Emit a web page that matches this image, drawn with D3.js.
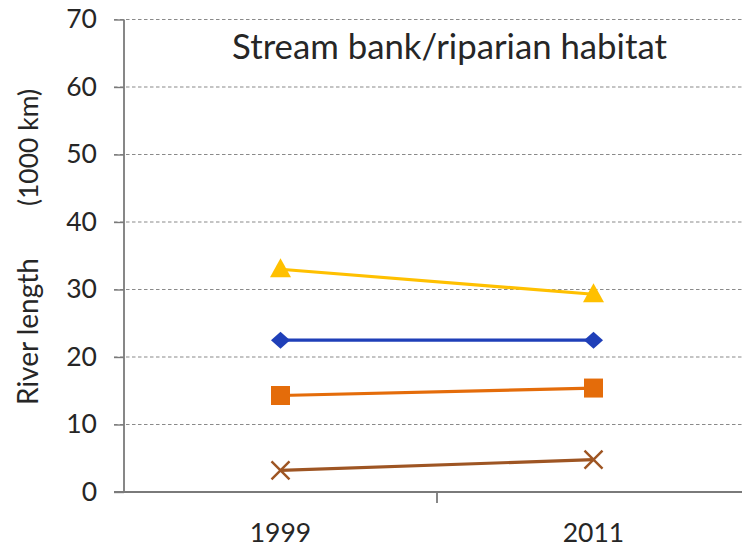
<!DOCTYPE html>
<html>
<head>
<meta charset="utf-8">
<script src="https://cdn.jsdelivr.net/npm/d3@7"></script>
<style>
  html, body { margin: 0; padding: 0; background: #fff; }
  svg { display: block; }
  text { font-family: Lato, "Open Sans", sans-serif; fill: #262626; }
</style>
</head>
<body>
<svg id="chart" width="742" height="547"></svg>
<script>
// Years on the category axis
const years = ["1999", "2011"];
const yTicks = [0, 10, 20, 30, 40, 50, 60, 70];

// River length (1000 km) by series
const triangleSeries = [33.0, 29.3];
const diamondSeries  = [22.5, 22.5];
const squareSeries   = [14.3, 15.4];
const crossSeries    = [3.2, 4.8];

const series = [
  { values: triangleSeries, color: "#FFC000", marker: "triangle" },
  { values: diamondSeries,  color: "#1F3FB8", marker: "diamond" },
  { values: squareSeries,   color: "#E46C0A", marker: "square" },
  { values: crossSeries,    color: "#9E5523", marker: "cross" }
];

const svg = d3.select("#chart");
const plotLeft = 124, plotRight = 750, plotTop = 19.5, plotBottom = 492;

const x = d3.scaleBand().domain(years).range([plotLeft, plotRight]);
const y = d3.scaleLinear().domain([0, 70]).range([plotBottom, plotTop]);

// sets a text's font size so that it spans the given width
function fitWidth(sel, width) {
  const w = sel.node().getComputedTextLength();
  const fs = parseFloat(sel.attr("font-size"));
  sel.attr("font-size", fs * width / w);
  return sel;
}

// dashed horizontal gridlines
svg.append("g")
  .selectAll("line")
  .data(yTicks.filter(d => d > 0))
  .join("line")
  .attr("x1", 114).attr("x2", 742)
  .attr("y1", d => y(d)).attr("y2", d => y(d))
  .attr("stroke", "#8a8a8a")
  .attr("stroke-width", 1.2)
  .attr("stroke-dasharray", "3.5,2.5");

// y axis
const yAxis = svg.append("g")
  .attr("transform", `translate(${plotLeft},0)`)
  .call(d3.axisLeft(y).tickValues(yTicks).tickSize(10).tickPadding(17));
yAxis.select(".domain").attr("stroke", "#7a7a7a").attr("stroke-width", 1.8).attr("d", `M0,${plotTop}V${plotBottom}`);
yAxis.selectAll(".tick line").attr("stroke", "#7a7a7a").attr("stroke-width", 1.4);
yAxis.selectAll(".tick text")
  .style("font-family", "Lato, sans-serif")
  .attr("font-size", 26.5).attr("fill", "#262626");

// x axis line and the boundary tick between the two years
const xAxis = svg.append("g")
  .attr("transform", `translate(0,${plotBottom})`);
xAxis.append("line")
  .attr("x1", 114).attr("x2", 742)
  .attr("stroke", "#7a7a7a").attr("stroke-width", 1.8);
xAxis.selectAll("line.bound")
  .data(years)
  .join("line")
  .attr("class", "bound")
  .attr("x1", d => x(d)).attr("x2", d => x(d))
  .attr("y1", 0).attr("y2", d => d === years[0] ? 0 : 11)
  .attr("stroke", "#7a7a7a").attr("stroke-width", 1.8);
xAxis.selectAll("text")
  .data(years)
  .join("text")
  .attr("x", d => x(d) + x.bandwidth() / 2)
  .attr("y", 50)
  .attr("text-anchor", "middle")
  .attr("font-size", 26.5)
  .attr("fill", "#262626")
  .text(d => d);

// series lines and markers
const cx = d => x(d) + x.bandwidth() / 2;
const line = d3.line().x((v, i) => cx(years[i])).y(v => y(v));

function markerPath(type, px, py) {
  if (type === "triangle") return `M${px},${py - 11}L${px + 10.5},${py + 8}L${px - 10.5},${py + 8}Z`;
  if (type === "diamond")  return `M${px},${py - 8.5}L${px + 9.5},${py}L${px},${py + 8.5}L${px - 9.5},${py}Z`;
  if (type === "square")   return `M${px - 9.5},${py - 9.5}h19v19h-19Z`;
  return `M${px - 9},${py - 9}L${px + 9},${py + 9}M${px - 9},${py + 9}L${px + 9},${py - 9}`;
}

series.forEach(s => {
  svg.append("path")
    .attr("d", line(s.values))
    .attr("fill", "none")
    .attr("stroke", s.color)
    .attr("stroke-width", 3.2);
  svg.append("g")
    .selectAll("path")
    .data(s.values)
    .join("path")
    .attr("d", (v, i) => markerPath(s.marker, cx(years[i]), y(v)))
    .attr("fill", s.marker === "cross" ? "none" : s.color)
    .attr("stroke", s.marker === "cross" ? s.color : "none")
    .attr("stroke-width", 2.4);
});

// chart title
fitWidth(svg.append("text")
  .attr("x", 449.5).attr("y", 59)
  .attr("text-anchor", "middle")
  .attr("font-size", 30)
  .attr("fill", "#262626")
  .text("Stream bank/riparian habitat"), 435);

// y axis title, in two parts along the axis
const yTitle = svg.append("g").attr("transform", "translate(38,0) rotate(-90)");
fitWidth(yTitle.append("text")
  .attr("x", -331.5).attr("y", 0)
  .attr("text-anchor", "middle")
  .attr("font-size", 26)
  .text("River length"), 147);
yTitle.append("text")
  .attr("x", -147.5).attr("y", 0)
  .attr("text-anchor", "middle")
  .attr("font-size", svg.select("g:last-child text").attr("font-size"))
  .text("(1000 km)");
</script>
</body>
</html>
